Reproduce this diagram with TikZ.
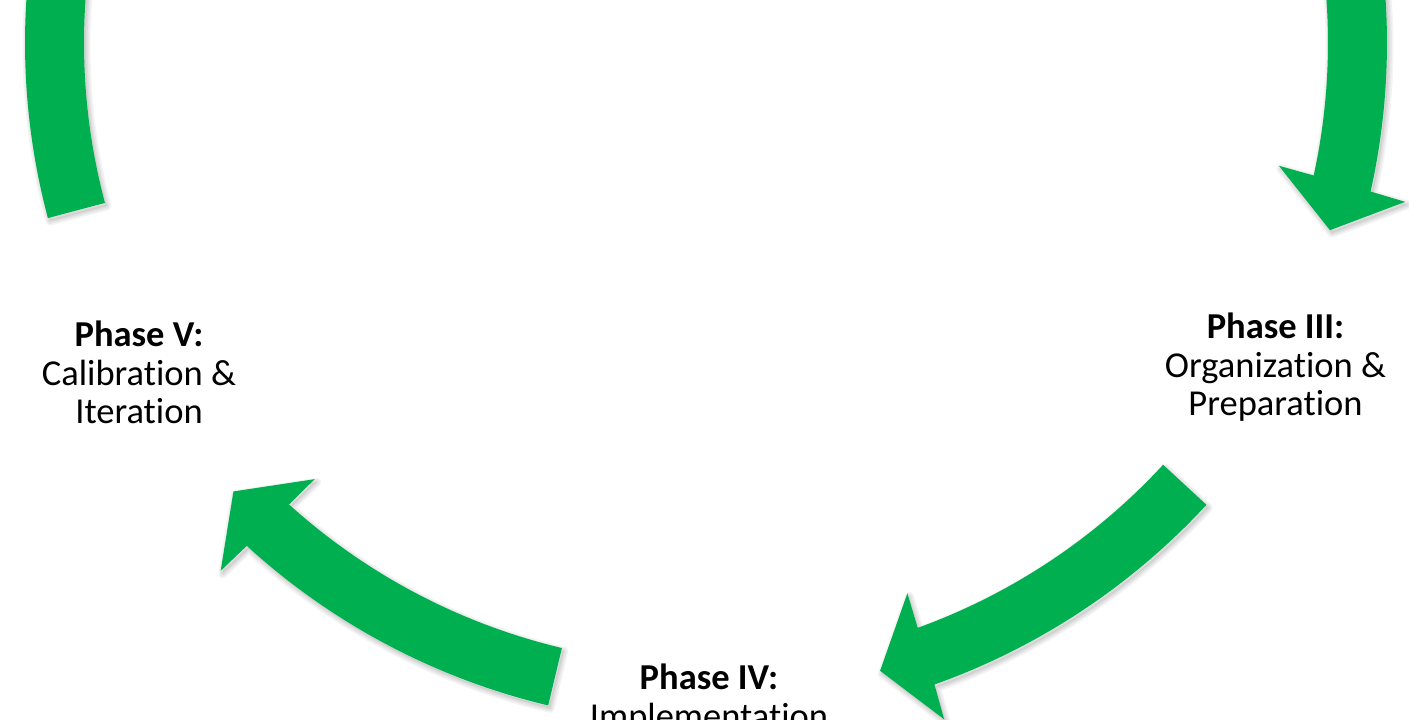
\documentclass[tikz,border=0pt]{standalone}
\usepackage{fontspec}
\setmainfont{Carlito}[Ligatures=NoCommon]
\definecolor{pptgreen}{HTML}{00B050}
\newcommand{\cycarrow}[2]{%
 (#1:681) arc[start angle=#1, end angle={#2-0.2}, radius=681]
 -- ({#2-0.4}:717) -- ({#2-4.3}:651.5) -- ({#2+0.3}:586) -- ({#2+0.1}:622)
 arc[start angle={#2+0.1}, end angle=#1, radius=622] -- cycle}
\newcommand{\shadowedarrow}[2]{%
 \begin{scope}[shift={(2,-3)}]
  \foreach \w in {9,6,3}{\path[draw=black, line width=\w pt, opacity=0.045, line join=round] \cycarrow{#1}{#2};}
  \path[fill=black, opacity=0.06] \cycarrow{#1}{#2};
 \end{scope}
 \path[fill=pptgreen] \cycarrow{#1}{#2};}
\tikzset{
 lbl/.style={anchor=base, inner sep=0pt, font=\fontsize{36.5}{36.5}\selectfont},
 lblb/.style={lbl, font=\fontsize{36.5}{36.5}\selectfont\bfseries}
}
\begin{document}
\begin{tikzpicture}[x=1pt,y=1pt]
\useasboundingbox (0,0) rectangle (1409,720);
\fill[white] (0,0) rectangle (1409,720);
\clip (0,0) rectangle (1409,720);
\begin{scope}[shift={(706,677)}]
 \shadowedarrow{16.5}{-12.4}
 \shadowedarrow{-42.7}{-70.2}
 \shadowedarrow{-103.4}{-132.2}
 \shadowedarrow{194.9}{166.9}
\end{scope}
% Phase V
\node[lblb] (p5a) at (139,373) {Phase V:};
\node[lbl]  (p5b) at (139,334.5) {Calibration \&};
\node[lbl]  (p5c) at (139,296) {Iteration};
% Phase III
\node[lblb] (p3a) at (1275.5,381) {Phase III:};
\node[lbl]  (p3b) at (1275.5,342.5) {Organization \&};
\node[lbl]  (p3c) at (1275.5,304) {Preparation};
% Phase IV
\node[lblb] (p4a) at (709,30) {Phase IV:};
\node[lbl]  (p4b) at (709,-8.5) {Implementation};
\end{tikzpicture}
\end{document}
